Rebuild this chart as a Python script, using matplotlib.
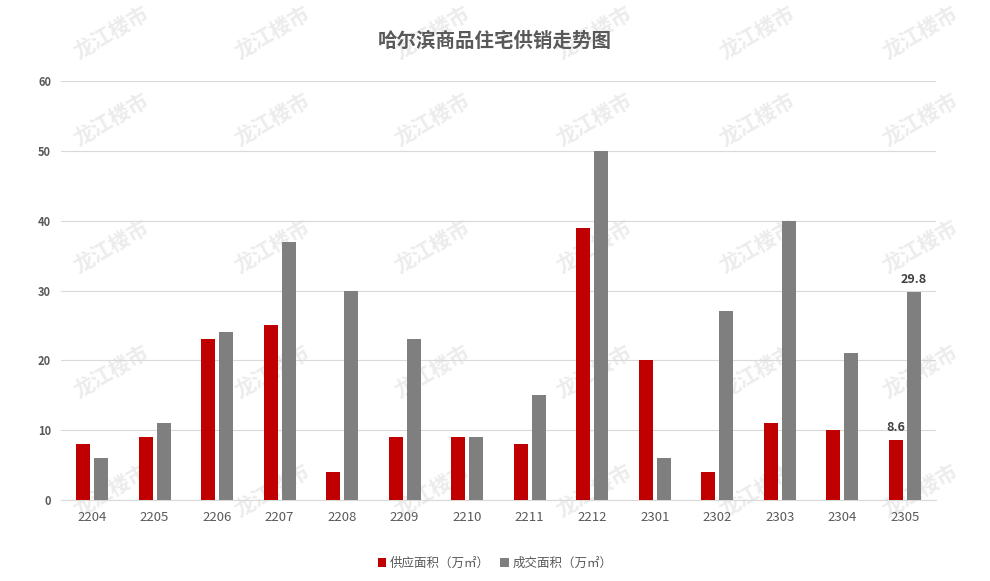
import matplotlib
matplotlib.use("Agg")
import matplotlib.pyplot as plt
import numpy as np

plt.rcParams['font.family'] = ['Noto Sans CJK SC', 'DejaVu Sans']

categories = ['2204', '2205', '2206', '2207', '2208', '2209', '2210', '2211',
              '2212', '2301', '2302', '2303', '2304', '2305']
supply = [8, 9, 23, 25, 4, 9, 9, 8, 39, 20, 4, 11, 10, 8.6]
sales = [6, 11, 24, 37, 30, 23, 9, 15, 50, 6, 27, 40, 21, 29.8]
series_names = ['供应面积（万㎡）', '成交面积（万㎡）']
title = '哈尔滨商品住宅供销走势图'
yticks = [0, 10, 20, 30, 40, 50, 60]

fig = plt.figure(figsize=(9.9, 5.81), dpi=100)

# faint watermark (behind the chart)
for yy in [0.944, 0.795, 0.575, 0.36, 0.155]:
    for xx in [0.112, 0.275, 0.437, 0.600, 0.765, 0.930]:
        fig.text(xx, yy, '龙江楼市', fontsize=15, fontweight='bold', color='#ececec',
                 rotation=30, ha='center', va='center', zorder=-1)

ax = fig.add_axes([0.0614, 0.1394, 0.8841, 0.7212])
ax.set_zorder(1)
ax.patch.set_alpha(0)
x = np.arange(len(categories))
w = 0.224
off = 0.144
b1 = ax.bar(x - off, supply, w, color='#C00000', label=series_names[0], zorder=3)
b2 = ax.bar(x + off, sales, w, color='#7F7F7F', label=series_names[1], zorder=3)

ax.set_xlim(-0.5, len(categories) - 0.5)
ax.set_ylim(0, 60)
ax.set_yticks(yticks)
ax.set_yticklabels([str(t) for t in yticks], fontsize=8, color='#595959', fontweight='bold')
ax.set_xticks(x)
ax.set_xticklabels(categories, fontsize=9.5, color='#595959')
ax.tick_params(length=0)
ax.tick_params(axis='y', pad=7)
ax.tick_params(axis='x', pad=8)
ax.grid(axis='y', color='#d9d9d9', linewidth=0.8, zorder=0)
for s in ['top', 'right', 'left']:
    ax.spines[s].set_visible(False)
ax.spines['bottom'].set_color('#d9d9d9')
ax.spines['bottom'].set_linewidth(0.8)

# data labels on last category
last = len(categories) - 1
ax.annotate(f'{supply[last]}', (x[last] - off, supply[last]), xytext=(0, 4),
            textcoords='offset points', ha='center', va='bottom',
            fontsize=9, fontweight='bold', color='#404040')
ax.annotate(f'{sales[last]}', (x[last] + off, sales[last]), xytext=(0, 4),
            textcoords='offset points', ha='center', va='bottom',
            fontsize=9, fontweight='bold', color='#404040')

fig.text(0.5, 0.93, title, ha='center', va='center', fontsize=14,
         fontweight='bold', color='#595959')

leg = fig.legend(handles=[b1, b2], labels=series_names, loc='center',
                 bbox_to_anchor=(0.5, 0.03), ncol=2, frameon=False,
                 fontsize=9, labelcolor='#595959', handlelength=0.7,
                 handleheight=0.7, handletextpad=0.3, columnspacing=0.8)
leg.set_zorder(2)

fig.savefig('out.png', dpi=100, facecolor='white')
